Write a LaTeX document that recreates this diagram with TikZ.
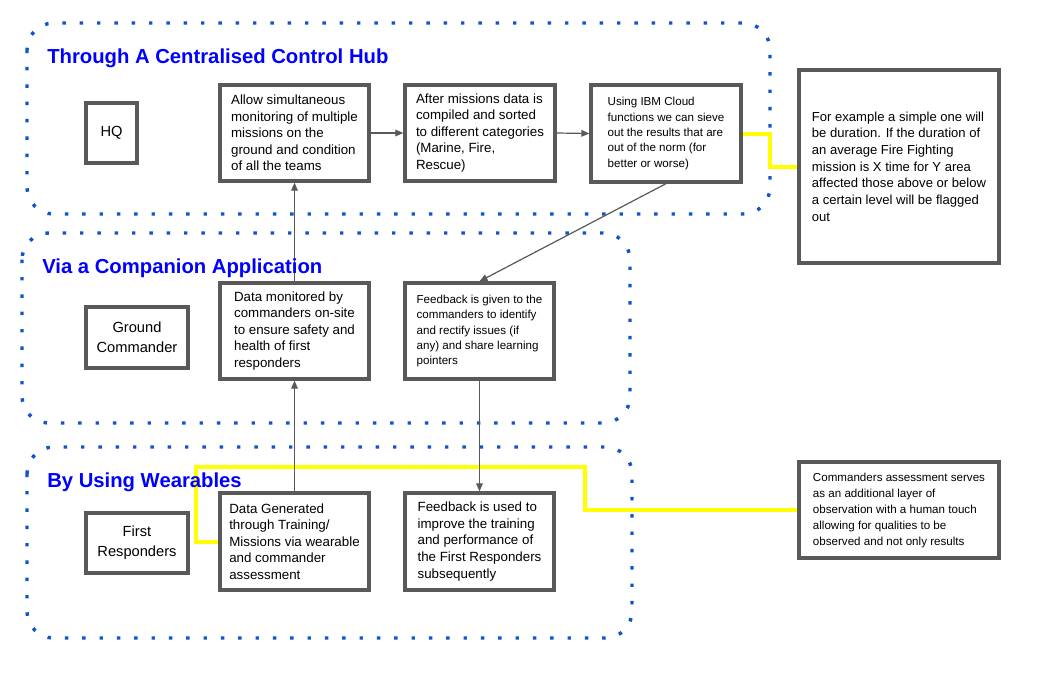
\documentclass[tikz,border=0pt]{standalone}
\usepackage{fontspec}
\setmainfont{Liberation Sans}
\usetikzlibrary{arrows.meta}
\definecolor{dotblue}{HTML}{1155CC}
\definecolor{boxgray}{HTML}{595959}
\definecolor{hiyellow}{HTML}{FFFF00}
\definecolor{titleblue}{HTML}{0000FF}
\begin{document}
\begin{tikzpicture}[x=0.75pt,y=-0.75pt,
  group/.style={draw=dotblue, line width=2.6pt, dash pattern=on 2.6pt off 10.4pt, rounded corners=20pt},
  box/.style={draw=boxgray, line width=2.5pt, fill=white, align=left, inner sep=0pt, text=black,
    font=\fontsize{10}{12.4}\selectfont},
  small/.style={font=\fontsize{8.7}{11.6}\selectfont},
  mid/.style={font=\fontsize{9.8}{12.5}\selectfont},
  actor/.style={draw=boxgray, line width=2.5pt, fill=white, align=center, inner sep=0pt,
    font=\fontsize{11}{15}\selectfont},
  title/.style={text=titleblue, font=\fontsize{15.2}{18}\selectfont\bfseries, anchor=west, inner sep=0pt},
  flow/.style={draw=boxgray, line width=0.9pt, -{Triangle[length=6pt,width=5pt]}},
  note/.style={draw=hiyellow, line width=3pt}
]
\useasboundingbox (0,0) rectangle (1039,674);
\fill[white] (0,0) rectangle (1039,674);

% containers
\draw[group] (27,23) rectangle (770,214);
\draw[group] (22,233) rectangle (630,423);
\draw[group] (27,447) rectangle (632,638);

% actor boxes
\node[actor, minimum width=38.25pt, minimum height=45pt] (hq) at (111.5,133) {HQ};
\node[actor, minimum width=76.5pt, minimum height=45.75pt] (gc) at (137,337.5) {Ground\\Commander};
\node[actor, minimum width=76.5pt, minimum height=45pt] (fr) at (137,543) {First\\Responders};

% yellow bend points
\coordinate (y1) at (770,133.5);
\coordinate (y2) at (196,467);
\coordinate (y3) at (585,510);

% process boxes
\node[box, minimum width=111.75pt, minimum height=72pt] (A) at (294.5,133)
  {Allow simultaneous\\monitoring of multiple\\missions on the\\ground and condition\\of all the teams};
\node[box, minimum width=112.5pt, minimum height=72pt] (B) at (480,133)
  {After missions data is\\compiled and sorted\\to different categories\\(Marine, Fire,\\Rescue)};
\node[box, small, minimum width=112.5pt, minimum height=72.75pt] (C) at (666,133.5)
  {Using IBM Cloud\\functions we can sieve\\out the results that are\\out of the norm (for\\better or worse)};
\node[box, mid, minimum width=150pt, minimum height=144.75pt] (D) at (899,166.5)
  {For example a simple one will\\be duration. If the duration of\\an average Fire Fighting\\mission is X time for Y area\\affected those above or below\\a certain level will be flagged\\out};
\node[box, minimum width=111.75pt, minimum height=72pt] (E) at (294.5,331)
  {Data monitored by\\commanders on-site\\to ensure safety and\\health of first\\responders};
\node[box, small, minimum width=111.75pt, minimum height=72pt] (F) at (479.5,331)
  {Feedback is given to the\\commanders to identify\\and rectify issues (if\\any) and share learning\\pointers};
\node[box, minimum width=111.75pt, minimum height=72.75pt] (G) at (294.5,541.5)
  {Data Generated\\through Training/\\Missions via wearable\\and commander\\assessment};
\node[box, minimum width=111.75pt, minimum height=72.75pt] (H) at (479.5,541.5)
  {Feedback is used to\\improve the training\\and performance of\\the First Responders\\subsequently};
\node[box, small, font=\fontsize{8.7}{12}\selectfont, minimum width=150pt, minimum height=72pt] (I) at (899,510)
  {Commanders assessment serves\\as an additional layer of\\observation with a human touch\\allowing for qualities to be\\observed and not only results};

% yellow connectors
\draw[note] (C.east) -- (y1) |- (D.west);
\draw[note] (G.west) -| (y2) -| (y3) -- (I.west);

% flow arrows
\draw[flow] (A.east) -- (B.west);
\draw[flow] (B.east) -- (C.west);
\draw[flow] (E.north) -- (A.south);
\draw[flow] (G.north) -- (E.south);
\draw[flow] (C.south) -- (F.north);
\draw[flow] (F.south) -- (H.north);

% titles
\node[title] (t1) at (47,58) {Through A Centralised Control Hub};
\node[title] (t2) at (42,268) {Via a Companion Application};
\node[title] (t3) at (47,482) {By Using Wearables};
\end{tikzpicture}
\end{document}
